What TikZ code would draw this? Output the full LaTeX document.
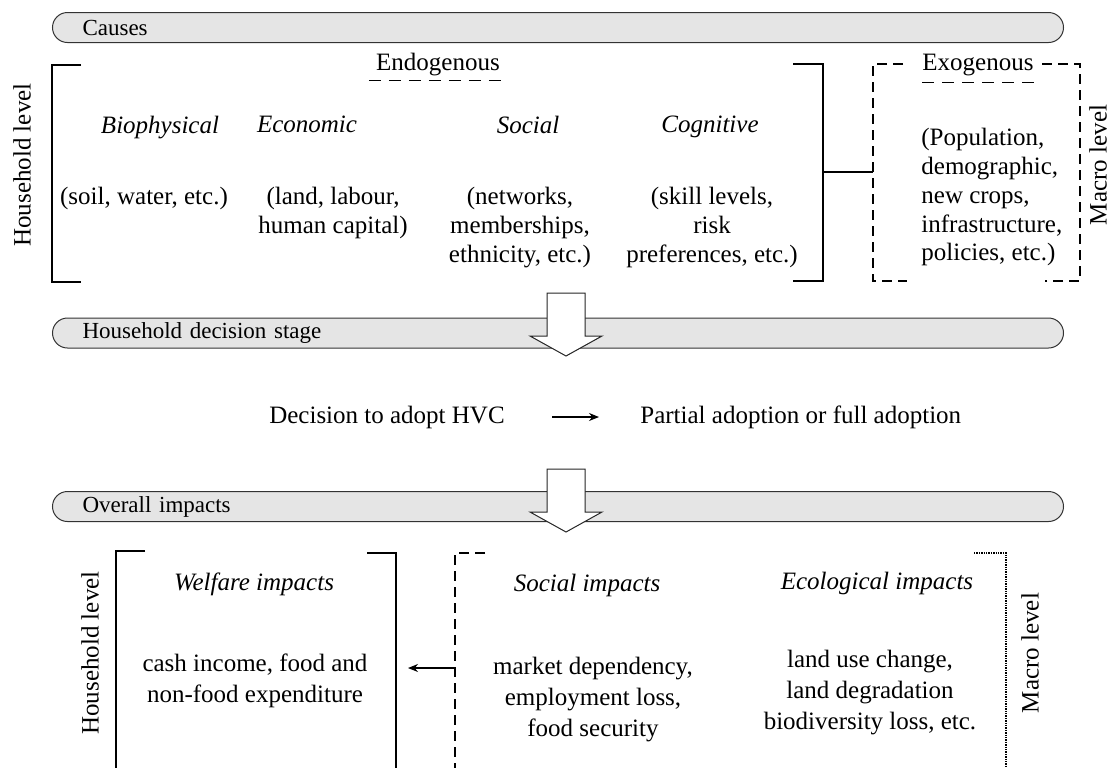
\documentclass[tikz,border=0pt]{standalone}
\usepackage{fontspec}
\setmainfont{Liberation Serif}
\usetikzlibrary{arrows.meta}
\begin{document}
\begin{tikzpicture}[x=0.5pt, y=-0.5pt,
 every node/.style={font=\fontsize{12.5}{14.4}\selectfont, inner sep=0pt},
 bar/.style={draw=black!80, fill=black!10, line width=0.5pt, rounded corners=7.5pt, anchor=west, minimum height=15pt, text width=475.5pt, inner xsep=15pt, align=left, font=\fontsize{11.5}{13}\selectfont},
 blockarr/.style={draw=black!85, fill=white, line width=0.5pt},
 brk/.style={line width=1pt},
 dbrk/.style={line width=0.6pt, dash pattern=on 5pt off 3pt},
 obrk/.style={line width=0.6pt, dash pattern=on 0.7pt off 0.5pt},
 uline/.style={line width=0.6pt, dash pattern=on 6pt off 4pt},
 ttl/.style={font=\itshape\fontsize{12.5}{14.4}\selectfont, anchor=north},
 txt/.style={align=center, anchor=north},
 wide/.style={font=\fontsize{12.5}{15.5}\selectfont},
 lvl/.style={rotate=90},
 arr/.style={-{Stealth[length=5pt,width=4pt]}, line width=0.6pt},
]
\useasboundingbox (0,0) rectangle (1113,767);

\node[bar] (causes) at (52,27.5) {Causes};
\node (endo) at (438,65) {Endogenous};
\draw[uline] ([xshift=-3.5pt,yshift=-2pt]endo.south west) -- ([xshift=2pt,yshift=-2pt]endo.south east);
\node (exo) at (978,65) {Exogenous};
\draw[uline] ([yshift=-3pt]exo.south west) -- ([yshift=-3pt]exo.south east);

\draw[brk] (81,65) -- (52,65) -- (52,282) -- (81,282);
\draw[brk] (793,64) -- (823,64) -- (823,281) -- (793,281);
\coordinate (endoR) at (823,172);
\coordinate (exoL) at (873,172);
\draw[brk] (endoR) -- (exoL);
\draw[dbrk] (903,64) -- (873,64) -- (873,281) -- (907,281);
\draw[dbrk] (1042,64) -- (1080,64) -- (1080,281) -- (1045,281);

\node[lvl] (hh1) at (22,165) {Household level};
\node[lvl] (macro1) at (1098,165) {Macro level};

\node[ttl] (bio) at (160,116) {Biophysical};
\node[ttl] (eco) at (307,116) {Economic};
\node[ttl] (soc) at (528,116) {Social};
\node[ttl] (cog) at (710,116) {Cognitive};
\node[txt] (biotxt) at (144,187) {(soil, water, etc.)};
\node[txt] (ecotxt) at (333,187) {(land, labour,\\human capital)};
\node[txt] (soctxt) at (520,187) {(networks,\\memberships,\\ethnicity, etc.)};
\node[txt] (cogtxt) at (712,187) {(skill levels,\\risk\\preferences, etc.)};
\node[align=left, anchor=north west] (exotxt) at (921,128) {(Population,\\demographic,\\new crops,\\infrastructure,\\policies, etc.)};

\node[bar] (stage) at (52,333) {Household decision stage};
\draw[blockarr] (547,293) -- (585,293) -- (585,336) -- (602,336) -- (566,356) -- (530,336) -- (547,336) -- cycle;

\node (decide) at (387,417) {Decision to adopt HVC};
\node[anchor=west] (adopt) at (640,417) {Partial adoption or full adoption};
\draw[arr, shorten <=23.5pt, shorten >=20.5pt] (decide.east) -- (adopt.west);

\node[bar] (impacts) at (52,506.5) {Overall impacts};
\draw[blockarr] (547,469) -- (585,469) -- (585,512) -- (602,512) -- (566,532) -- (530,512) -- (547,512) -- cycle;

\draw[brk] (145,551) -- (116,551) -- (116,790);
\draw[brk] (367,553) -- (396,553) -- (396,790);
\draw[dbrk] (485,553) -- (455,553) -- (455,790);
\draw[obrk] (974,553) -- (1006,553) -- (1006,790);

\node[lvl] (hh2) at (90,653) {Household level};
\node[lvl] (macro2) at (1030,653) {Macro level};

\node[ttl] (wel) at (254,572) {Welfare impacts};
\node[ttl] (socimp) at (587,574) {Social impacts};
\node[ttl] (ecoimp) at (877,572) {Ecological impacts};
\node[txt, wide] (weltxt) at (255,653) {cash income, food and\\non-food expenditure};
\node[txt, wide] (soctxt2) at (593,657) {market dependency,\\employment loss,\\food security};
\node[txt, wide] (ecotxt2) at (870,650) {land use change,\\land degradation\\biodiversity loss, etc.};

\coordinate (socL) at (455,668);
\coordinate (welR) at (396,668);
\draw[arr, shorten >=6pt] (socL) -- (welR);
\end{tikzpicture}
\end{document}
